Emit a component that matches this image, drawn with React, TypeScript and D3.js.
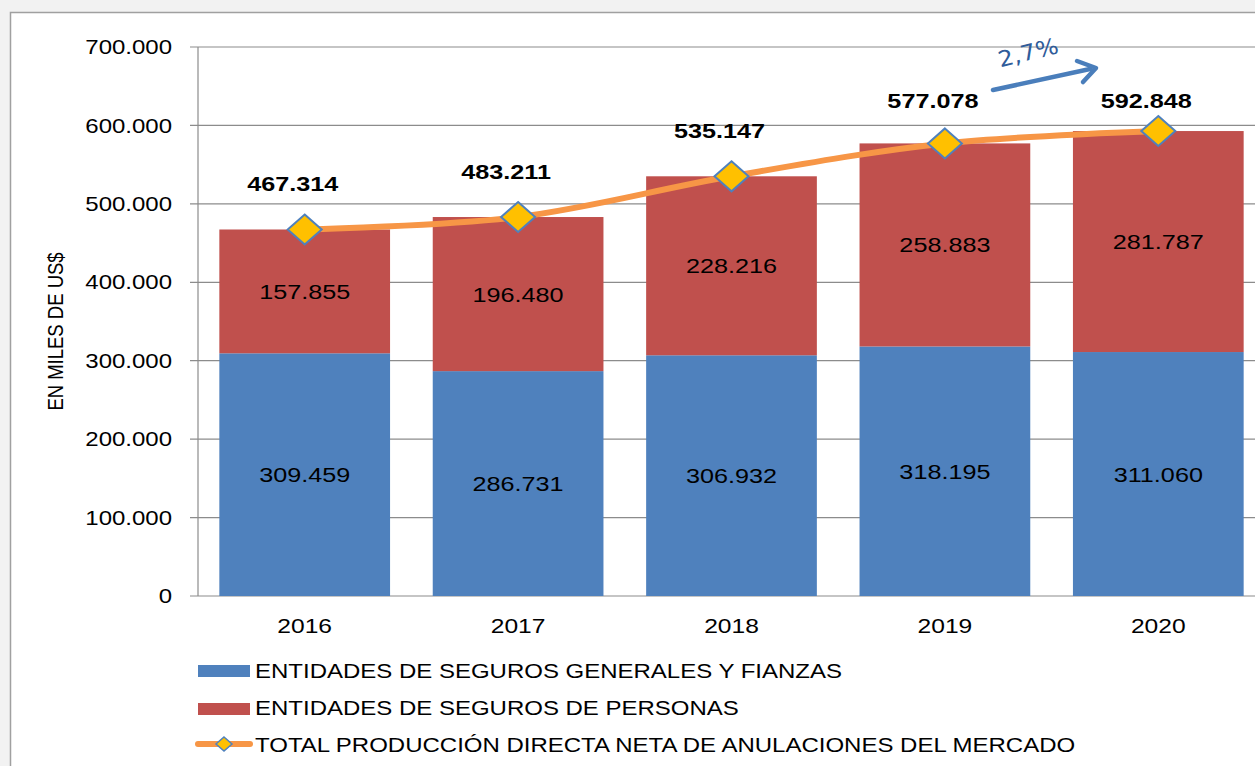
import * as d3 from 'd3';

const YEARS = ['2016', '2017', '2018', '2019', '2020'];
const GENERALES = [309459, 286731, 306932, 318195, 311060];
const PERSONAS = [157855, 196480, 228216, 258883, 281787];
const TOTAL = [467314, 483211, 535147, 577078, 592848];
const Y_TICKS = [0, 100000, 200000, 300000, 400000, 500000, 600000, 700000];
const LEGEND_LABELS = [
  'ENTIDADES DE SEGUROS GENERALES Y FIANZAS',
  'ENTIDADES DE SEGUROS DE PERSONAS',
  'TOTAL PRODUCCIÓN DIRECTA NETA DE ANULACIONES DEL MERCADO',
];
const GROWTH_LABEL = '2,7%';

const BLUE = '#4f81bd';
const RED = '#c0504d';
const ORANGE = '#f79646';
const YELLOW = '#ffc000';
const FONT = 'Liberation Sans, Arial, sans-serif';
const STRETCH = 1.2; // the source picture is widened horizontally

const fmt = (v: number) => d3.format(',')(v).replace(/,/g, '.');

type TProps = {
  x: number;
  y: number;
  size: number;
  anchor?: 'start' | 'middle' | 'end';
  bold?: boolean;
  children: string;
};

function T({ x, y, size, anchor = 'middle', bold = false, children }: TProps) {
  return (
    <text
      transform={`translate(${x},${y}) scale(${STRETCH},1)`}
      dy="0.36em"
      textAnchor={anchor}
      fontSize={size}
      fontWeight={bold ? 'bold' : 'normal'}
      fill="#000"
    >
      {children}
    </text>
  );
}

export default function App() {
  const width = 1255;
  const height = 766;
  const plot = { left: 198, right: 1265, top: 47, bottom: 596 };

  const x = d3.scaleBand<string>().domain(YEARS).range([plot.left, plot.right]).paddingInner(0.2).paddingOuter(0.1);
  const y = d3.scaleLinear().domain([0, 700000]).range([plot.bottom, plot.top]);
  const cx = (i: number) => (x(YEARS[i]) ?? 0) + x.bandwidth() / 2;

  const line = d3
    .line<number>()
    .x((_, i) => cx(i))
    .y((d) => y(d))
    .curve(d3.curveCatmullRom.alpha(0.5));

  const diamond = (px: number, py: number, rx: number, ry: number) =>
    `M${px},${py - ry}L${px + rx},${py}L${px},${py + ry}L${px - rx},${py}Z`;

  return (
    <svg width={width} height={height} style={{ position: 'absolute', left: 0, top: 0, display: 'block' }} fontFamily={FONT}>
      <rect x={0} y={0} width={width} height={height} fill="#f2f2f2" />
      <rect x={10.5} y={12.5} width={width + 20} height={height + 20} fill="#ffffff" stroke="#a0a0a0" strokeWidth={1.5} />

      {/* gridlines and y ticks */}
      {Y_TICKS.map((t) => (
        <g key={t}>
          <line x1={plot.left - 8} x2={width} y1={y(t)} y2={y(t)} stroke="#8c8c8c" strokeWidth={1.2} />
          <T x={172} y={y(t)} size={20} anchor="end">
            {fmt(t)}
          </T>
        </g>
      ))}
      <line x1={plot.left} x2={plot.left} y1={plot.top} y2={plot.bottom} stroke="#8c8c8c" strokeWidth={1.2} />

      <text
        transform={`translate(63,${(plot.top + plot.bottom) / 2 + 10}) rotate(-90) scale(1,${STRETCH})`}
        textAnchor="middle"
        fontSize={18.5}
        fill="#000"
      >
        EN MILES DE US$
      </text>

      {/* bars */}
      {YEARS.map((yr, i) => (
        <g key={yr}>
          <rect x={x(yr)} y={y(GENERALES[i])} width={x.bandwidth()} height={plot.bottom - y(GENERALES[i])} fill={BLUE} />
          <rect x={x(yr)} y={y(TOTAL[i])} width={x.bandwidth()} height={y(GENERALES[i]) - y(TOTAL[i])} fill={RED} />
          <T x={cx(i)} y={(y(0) + y(GENERALES[i])) / 2} size={21}>
            {fmt(GENERALES[i])}
          </T>
          <T x={cx(i)} y={(y(GENERALES[i]) + y(TOTAL[i])) / 2} size={21}>
            {fmt(PERSONAS[i])}
          </T>
          <T x={cx(i)} y={plot.bottom + 30} size={20.5}>
            {yr}
          </T>
        </g>
      ))}

      {/* total line */}
      <path d={line(TOTAL) ?? ''} fill="none" stroke={ORANGE} strokeWidth={6} strokeLinecap="round" />
      {TOTAL.map((v, i) => (
        <g key={i}>
          <path d={diamond(cx(i), y(v), 17, 15)} fill={YELLOW} stroke={BLUE} strokeWidth={2} />
          <T x={cx(i) - 12} y={Math.max(y(v) - 46, 100)} size={21} bold>
            {fmt(v)}
          </T>
        </g>
      ))}

      {/* growth arrow */}
      <g>
        <line x1={993} y1={90} x2={1090} y2={69} stroke="#4a7ebb" strokeWidth={4.5} strokeLinecap="round" />
        <path d="M1077,61 L1096,68 L1083,82" fill="none" stroke="#4a7ebb" strokeWidth={4.5} strokeLinecap="round" strokeLinejoin="round" />
        <text
          transform="translate(1030,60) rotate(-14) scale(1.1,1)"
          textAnchor="middle"
          fontSize={22}
          fill="#2f5c9a"
          fontFamily="DejaVu Sans, sans-serif"
        >
          {GROWTH_LABEL}
        </text>
      </g>

      {/* legend */}
      <g>
        <rect x={198} y={665} width={52} height={12} fill={BLUE} />
        <rect x={198} y={703} width={52} height={12} fill={RED} />
        <line x1={198} x2={250} y1={744} y2={744} stroke={ORANGE} strokeWidth={6} strokeLinecap="round" />
        <path d={diamond(224, 744, 8, 7)} fill={YELLOW} stroke={BLUE} strokeWidth={1.5} />
        {LEGEND_LABELS.map((l, i) => (
          <T key={l} x={255} y={671 + i * 37} size={20} anchor="start">
            {l}
          </T>
        ))}
      </g>
    </svg>
  );
}
